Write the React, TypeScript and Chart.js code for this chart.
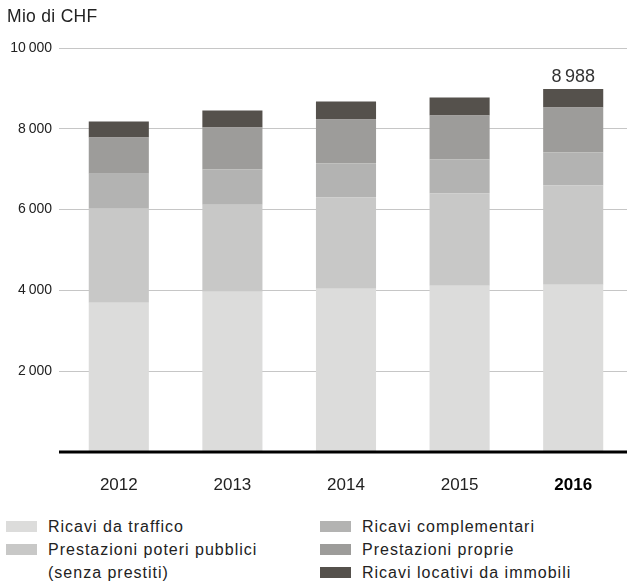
import React, { useEffect, useRef } from 'react';
import { Chart, registerables } from 'chart.js';

Chart.register(...registerables);

// ---- Data ----
const years = ['2012', '2013', '2014', '2015', '2016'];
const highlightYear = '2016';
const ricaviTraffico = [3693, 3966, 4041, 4115, 4140];
const prestazioniPoteri = [2329, 2157, 2256, 2281, 2454];
const ricaviComplementari = [868, 868, 842, 843, 818];
const prestazioniProprie = [892, 1041, 1091, 1090, 1116];
const ricaviImmobili = [396, 421, 446, 446, 460];
const yMax = 10000;
const yStep = 2000;
const unitLabel = 'Mio di CHF';

const seriesNames = [
  'Ricavi da traffico',
  'Prestazioni poteri pubblici\n(senza prestiti)',
  'Ricavi complementari',
  'Prestazioni proprie',
  'Ricavi locativi da immobili',
];
const seriesColors = ['#dcdcdb', '#c8c8c7', '#b3b3b2', '#9d9c9a', '#55514c'];
const seriesValues = [
  ricaviTraffico,
  prestazioniPoteri,
  ricaviComplementari,
  prestazioniProprie,
  ricaviImmobili,
];

const FONT = '"Liberation Sans", Arial, Helvetica, sans-serif';
const TEXT = '#222222';

const fmt = (n: number) =>
  Math.round(n).toString().replace(/\B(?=(\d{3})+(?!\d))/g, '\u2009');

const baselinePlugin = {
  id: 'baseline',
  afterDatasetsDraw(chart: any) {
    const { ctx, chartArea, scales } = chart;
    const y = scales.y.getPixelForValue(0);
    ctx.save();
    ctx.strokeStyle = '#000000';
    ctx.lineWidth = 3;
    ctx.beginPath();
    ctx.moveTo(chartArea.left - 3, y);
    ctx.lineTo(chartArea.right, y);
    ctx.stroke();
    ctx.restore();
  },
};

const totalPlugin = {
  id: 'totalLabel',
  afterDatasetsDraw(chart: any) {
    const { ctx } = chart;
    const idx = years.indexOf(highlightYear);
    const last = chart.data.datasets.length - 1;
    const el = chart.getDatasetMeta(last).data[idx];
    if (!el) return;
    const total = seriesValues.reduce((s, arr) => s + arr[idx], 0);
    ctx.save();
    ctx.font = `18px ${FONT}`;
    ctx.fillStyle = '#333333';
    ctx.textAlign = 'center';
    ctx.textBaseline = 'alphabetic';
    ctx.fillText(fmt(total), el.x, el.y - 7);
    ctx.restore();
  },
};

const CANVAS_W = 630;
const CANVAS_H = 506;

function ChartCanvas() {
  const ref = useRef<HTMLCanvasElement | null>(null);
  useEffect(() => {
    if (!ref.current) return;
    const chart = new Chart(ref.current, {
      type: 'bar',
      data: {
        labels: years,
        datasets: seriesValues.map((vals, i) => ({
          label: seriesNames[i].replace('\n', ' '),
          data: vals,
          backgroundColor: seriesColors[i],
          borderWidth: 0,
          categoryPercentage: 1,
          barPercentage: 0.529,
        })),
      },
      options: {
        responsive: false,
        animation: false,
        devicePixelRatio: 1,
        layout: { padding: { top: 48, right: 0, left: 0, bottom: 0 } },
        plugins: {
          legend: { display: false },
          tooltip: { enabled: false },
          title: { display: false },
        },
        scales: {
          x: {
            stacked: true,
            grid: { display: false, drawTicks: false },
            border: { display: false },
            ticks: {
              padding: 23,
              font: (c: any) => ({
                family: FONT,
                size: 17,
                weight: years[c.index] === highlightYear ? 'bold' : 'normal',
              }),
              color: (c: any) => (years[c.index] === highlightYear ? '#000000' : TEXT),
            },
            afterFit: (s: any) => {
              s.height = 54;
            },
          },
          y: {
            stacked: true,
            min: 0,
            max: yMax,
            border: { display: false },
            grid: {
              color: (c: any) => (c.tick && c.tick.value === 0 ? 'rgba(0,0,0,0)' : '#c6c6c6'),
              tickColor: (c: any) => (c.tick && c.tick.value === 0 ? 'rgba(0,0,0,0)' : '#c6c6c6'),
              lineWidth: 1,
              drawTicks: true,
              tickLength: 3,
            },
            ticks: {
              stepSize: yStep,
              padding: 7,
              color: TEXT,
              font: { family: FONT, size: 14 },
              callback: (v: any) => (Number(v) === 0 ? '' : fmt(Number(v))),
            },
            afterFit: (s: any) => {
              s.width = 62;
            },
          },
        },
      },
      plugins: [baselinePlugin, totalPlugin],
    } as any);
    return () => chart.destroy();
  }, []);
  return (
    <canvas
      ref={ref}
      width={CANVAS_W}
      height={CANVAS_H}
      style={{ position: 'absolute', left: 0, top: 0, width: CANVAS_W, height: CANVAS_H }}
    />
  );
}

function LegendItem({ i }: { i: number }) {
  return (
    <div style={{ display: 'flex', alignItems: 'flex-start' }}>
      <div
        style={{
          width: 31,
          height: 11,
          marginTop: 6,
          background: seriesColors[i],
          flex: '0 0 auto',
        }}
      />
      <div style={{ marginLeft: 11, whiteSpace: 'pre-line' }}>{seriesNames[i]}</div>
    </div>
  );
}

export default function App() {
  const legendText: React.CSSProperties = {
    position: 'absolute',
    top: 515,
    fontFamily: FONT,
    fontSize: 16,
    lineHeight: '23px',
    letterSpacing: '1px',
    color: TEXT,
  };
  return (
    <div
      style={{
        position: 'fixed',
        left: 0,
        top: 0,
        width: 627,
        height: 586,
        background: '#ffffff',
        overflow: 'hidden',
      }}
    >
      <ChartCanvas />
      <div
        style={{
          position: 'absolute',
          left: 7,
          top: 5,
          fontFamily: FONT,
          fontSize: 17.5,
          lineHeight: '22px',
          color: TEXT,
          letterSpacing: '0.3px',
        }}
      >
        {unitLabel}
      </div>
      <div style={{ ...legendText, left: 6 }}>
        <LegendItem i={0} />
        <LegendItem i={1} />
      </div>
      <div style={{ ...legendText, left: 320 }}>
        <LegendItem i={2} />
        <LegendItem i={3} />
        <LegendItem i={4} />
      </div>
    </div>
  );
}
